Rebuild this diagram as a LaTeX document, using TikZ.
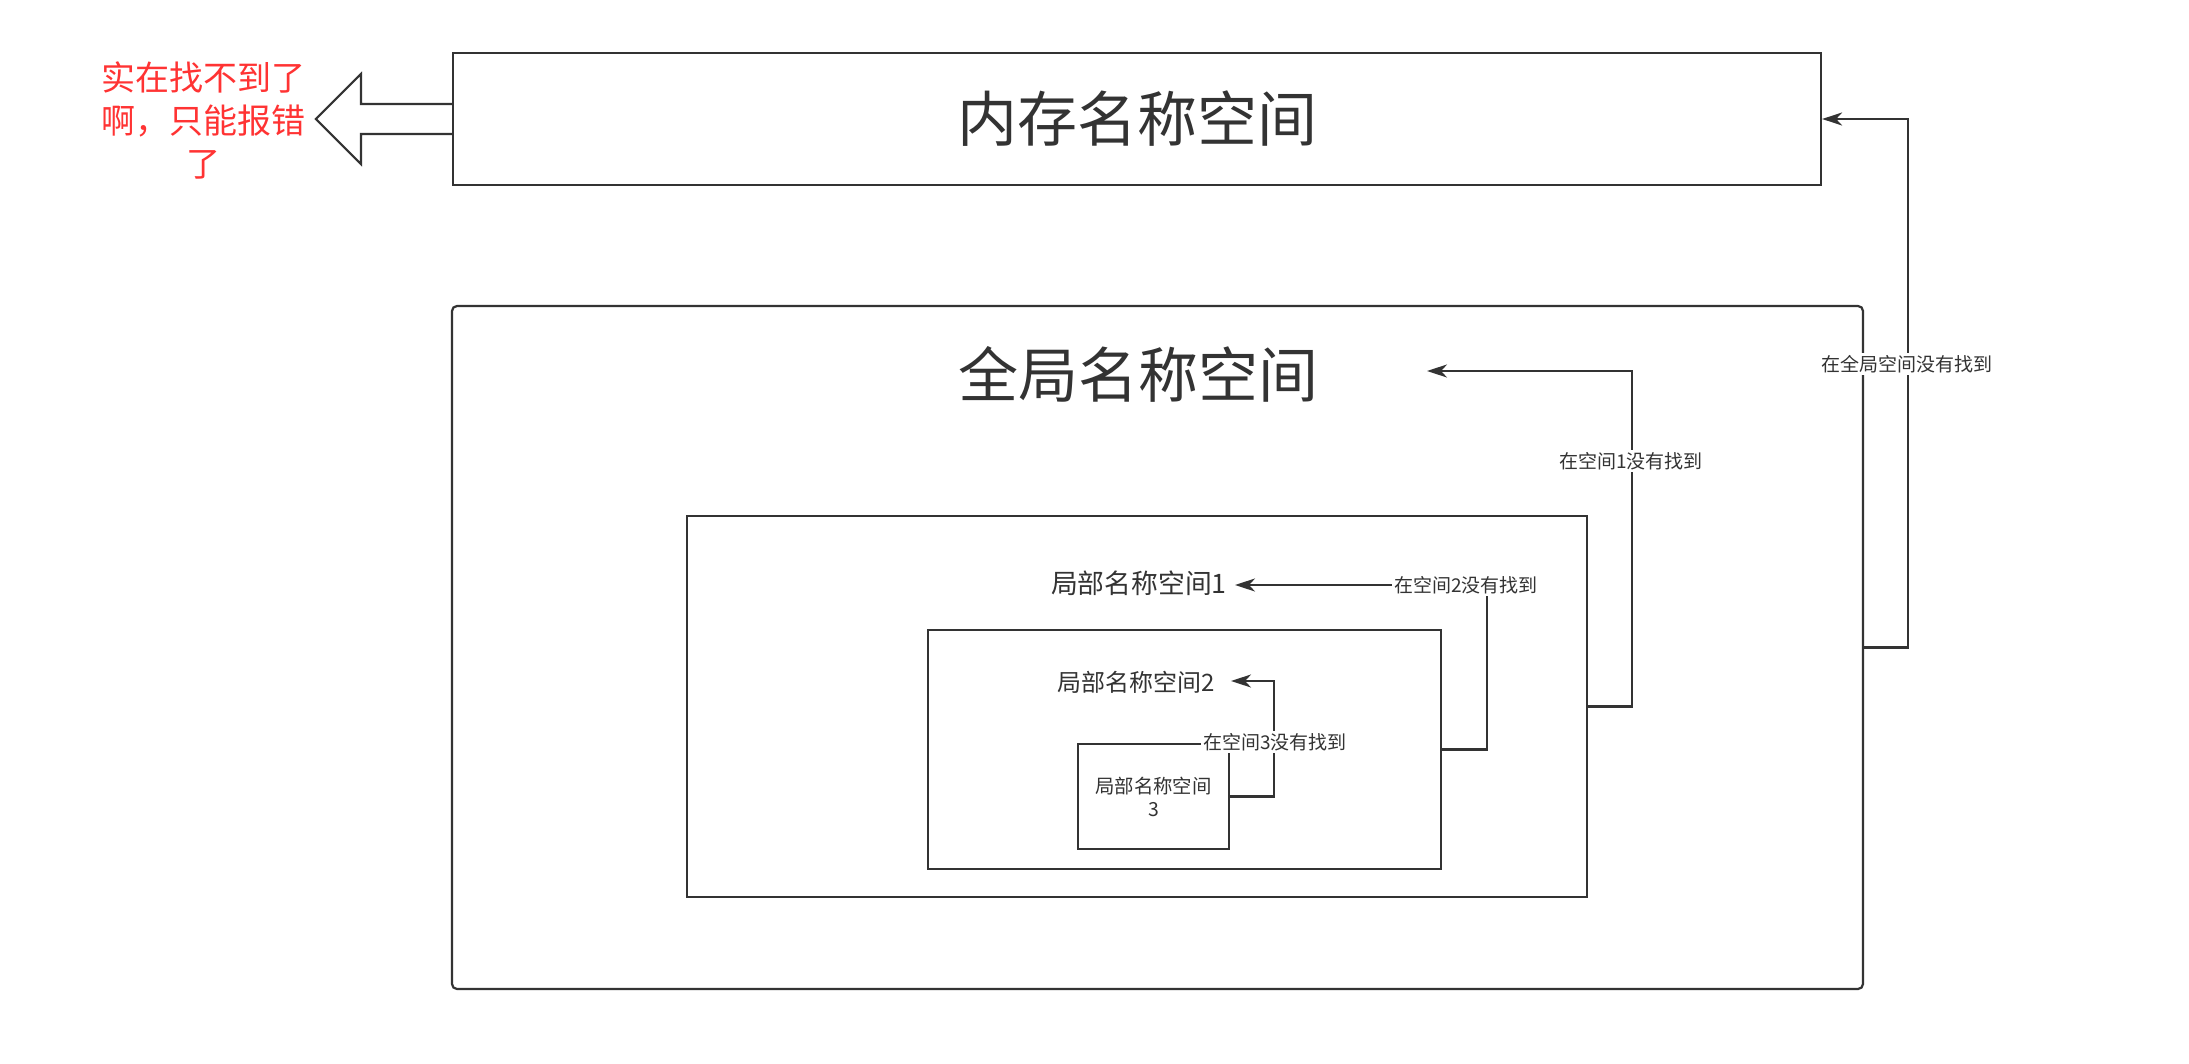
\documentclass[tikz,border=0pt]{standalone}
\usepackage{fontspec}
\setmainfont{Noto Sans CJK SC}
\usetikzlibrary{arrows.meta,calc}
\definecolor{ink}{HTML}{333333}
\definecolor{warn}{HTML}{FF3333}
\begin{document}
\begin{tikzpicture}[x=0.5pt,y=-0.5pt,
  box/.style={draw=ink, line width=1.1pt, inner sep=0pt, fill=white, text=ink},
  conn/.style={draw=ink, line width=1.1pt, -{Stealth[length=10pt,width=6.5pt,inset=3pt]}},
  lbl/.style={fill=white, inner sep=1pt, text=ink, font=\fontsize{9.5}{11}\selectfont},
  title/.style={text=ink, inner sep=0pt, font=\fontsize{30}{36}\selectfont},
  hollow/.style={draw=ink, line width=1.1pt, fill=white, line join=miter}]
\useasboundingbox (0,0) rectangle (2189,1064);
\fill[white] (0,0) rectangle (2189,1064);

% boxes
\node[box, minimum width=684pt, minimum height=66pt, font=\fontsize{30}{36}\selectfont] (mem) at (1137,119) {内存名称空间};
\node[box, rounded corners=2.5pt, minimum width=705.5pt, minimum height=341.5pt] (glob) at (1157.5,647.5) {};
\node[title] (globt) at (1138,374) {全局名称空间};
\node[box, minimum width=450pt, minimum height=190.5pt] (loc1) at (1137,706.5) {};
\node[text=ink, inner sep=0pt, font=\fontsize{13.4}{16}\selectfont] (loc1t) at (1139,583) {局部名称空间1};
\node[box, minimum width=256.5pt, minimum height=119.5pt] (loc2) at (1184.5,749.5) {};
\node[text=ink, inner sep=0pt, font=\fontsize{12}{14}\selectfont] (loc2t) at (1136,682) {局部名称空间2};
\node[box, minimum width=75.5pt, minimum height=52.5pt, align=center, font=\fontsize{9.7}{11.5}\selectfont] (loc3) at (1153.5,796.5) {局部名称空间\\3};

% arrow targets
\coordinate (globtip) at (1427,371);
\coordinate (loc1tip) at (1235,585);
\coordinate (loc2tip) at (1231,681);

% connectors
\draw[conn] (glob.east) -- ++(44,0) coordinate (g1) -- (g1 |- mem.east) -- (mem.east);
\draw[conn] (loc1.east) -- ++(44,0) coordinate (l1) -- (l1 |- globtip) -- (globtip);
\draw[conn] (loc2.east) -- ++(45,0) coordinate (l2) -- (l2 |- loc1tip) -- (loc1tip);
\draw[conn] (loc3.east) -- ++(44,0) coordinate (l3) -- (l3 |- loc2tip) -- (loc2tip);

% labels
\node[lbl] (lg) at (1907,364) {在全局空间没有找到};
\node[lbl] (la) at (1631,461) {在空间1没有找到};
\node[lbl] (lb) at (1466,585) {在空间2没有找到};
\node[lbl] (lc) at (1275,742) {在空间3没有找到};

% hollow arrow and red note
\draw[hollow] ($(mem.west)+(0,-15)$) -- ++(-91,0) -- ++(0,-30) -- ($(mem.west)+(-136,0)$)
  -- ($(mem.west)+(-91,45)$) -- ++(0,-30) -- ($(mem.west)+(0,15)$);
\node[text=warn, align=center, inner sep=0pt, font=\fontsize{17}{21.5}\selectfont] (note) at (203,120) {实在找不到了\\啊，只能报错\\了};
\end{tikzpicture}
\end{document}
